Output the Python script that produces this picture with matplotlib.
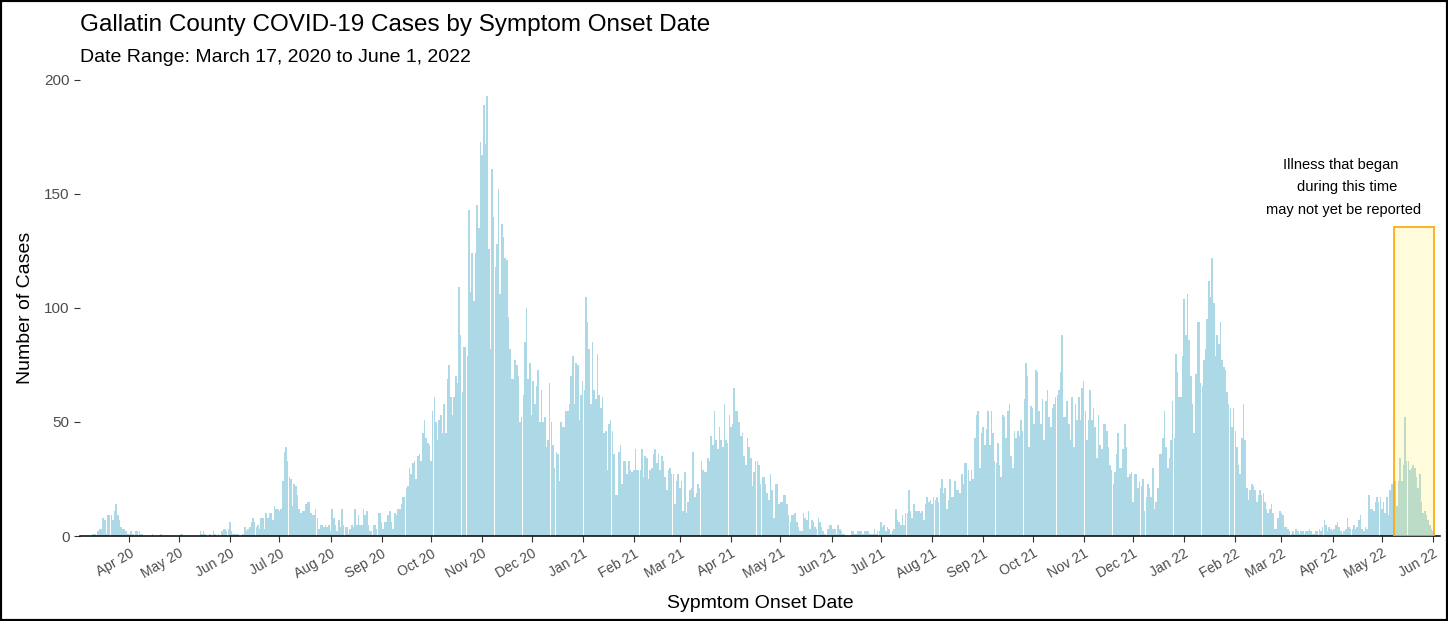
import matplotlib
matplotlib.use('Agg')
import matplotlib.pyplot as plt
import matplotlib.dates as mdates
from matplotlib.patches import Rectangle
import pandas as pd

plt.rcParams['font.family'] = ['Liberation Sans', 'DejaVu Sans']

# Daily case counts by symptom onset (first bar = 2020-03-10)
early_2020 = [1, 1, 0, 2, 3, 3, 8, 7, 1, 9, 9, 9, 7, 11, 14, 9, 7, 4, 3, 3,
              2, 1, 1, 2, 1, 0, 2, 2, 2, 1, 1, 0, 0, 0, 0, 0, 1, 0, 0, 0,
              0, 1, 0, 0, 0, 0, 0, 0, 0, 0, 0, 0, 0, 1, 1, 0, 0, 0, 0, 0,
              0, 0, 0, 0, 0, 2, 1, 2, 1]
summer_2020 = [0, 0, 1, 0, 2, 1, 0, 1, 0, 2, 3, 3, 2, 3, 6, 2, 1, 1, 1, 1,
               0, 0, 1, 4, 2, 3, 4, 6, 8, 6, 4, 5, 3, 8, 8, 3, 10, 8, 10, 10,
               7, 13, 12, 12, 11, 12, 24, 37, 39, 33, 26, 25, 13, 23, 22, 18, 12, 10, 11, 11,
               14, 15, 15, 10, 9, 9, 12, 8, 3, 5, 5, 4]
fall_2020 = [5, 4, 5, 2, 12, 8, 5, 2, 7, 4, 12, 5, 4, 4, 1, 3, 5, 4, 12, 5,
             9, 5, 5, 12, 9, 11, 5, 2, 2, 5, 5, 3, 10, 10, 6, 3, 6, 6, 9, 11,
             6, 3, 10, 9, 12, 12, 14, 17, 17, 21, 22, 30, 27, 32, 33, 25, 35, 36, 33, 45,
             51, 43, 41, 40, 33, 55, 61, 50, 42, 51, 53, 45, 58]
peak_2020 = [45, 69, 75, 61, 53, 61, 70, 67, 109, 88, 63, 83, 83, 79, 143, 107, 124, 103, 124, 145,
             135, 173, 167, 189, 172, 193, 126, 82, 161, 140, 118, 128, 152, 106, 137, 131, 122, 121, 96, 82,
             69, 69, 77, 75, 70, 50, 52, 62, 85, 100, 69, 76, 53, 68, 58, 66, 73, 50, 64, 50,
             52, 39, 42, 67, 50, 40, 30, 37, 36, 24, 50, 48, 48, 55]
winter_2021 = [55, 58, 70, 79, 58, 76, 75, 51, 62, 68, 64, 105, 94, 82, 58, 85, 64, 60, 80, 62,
               56, 61, 45, 46, 29, 49, 51, 46, 36, 18, 18, 37, 40, 23, 33, 33, 27, 33, 29, 28,
               29, 38, 29, 29, 29, 38, 26, 35, 34, 25, 29, 30, 36, 38, 32, 36, 29, 35, 33, 26,
               20, 29, 30, 27, 27, 14, 24, 27, 21, 24, 11]
spring_2021 = [28, 10, 15, 20, 21, 37, 17, 19, 23, 21, 33, 29, 28, 28, 34, 33, 44, 40, 55, 42,
               38, 48, 42, 39, 58, 42, 41, 53, 48, 49, 65, 55, 55, 50, 44, 45, 35, 31, 43, 39,
               34, 22, 28, 33, 33, 31, 23, 26, 26, 23, 19, 16, 27, 20, 8, 23, 23, 14, 15, 15,
               18, 18, 14, 9, 6, 9, 9, 10, 6, 4, 2, 2, 10]
summer_2021 = [8, 7, 11, 3, 7, 6, 4, 3, 8, 6, 4, 2, 1, 0, 3, 5, 5, 3, 3, 1,
               5, 3, 2, 1, 1, 0, 0, 0, 2, 2, 1, 1, 2, 2, 2, 1, 2, 2, 2, 1,
               1, 1, 3, 1, 2, 2, 6, 4, 5, 2, 4, 3, 1, 2, 3, 12, 7, 6, 5, 9,
               5, 10, 10, 20, 11, 8, 14, 11, 11, 11, 10, 11, 7, 14, 17]
delta_2021 = [15, 16, 14, 17, 16, 17, 15, 21, 25, 19, 21, 12, 16, 25, 17, 17, 24, 20, 20, 19,
              27, 23, 32, 32, 29, 24, 29, 25, 43, 53, 55, 30, 45, 48, 40, 47, 55, 40, 55, 45,
              33, 32, 41, 31, 26, 53, 52, 43, 55, 58, 35, 30, 46, 43, 46, 44, 51, 46, 60, 76,
              70, 39, 57, 56, 49, 73, 72, 55, 49, 60, 42, 59, 64, 52]
late_2021 = [48, 56, 58, 61, 62, 64, 72, 88, 52, 52, 59, 49, 42, 61, 39, 58, 51, 61, 51, 65,
             68, 55, 42, 51, 64, 51, 56, 48, 34, 53, 40, 38, 49, 49, 46, 39, 31, 29, 23, 28,
             36, 45, 30, 30, 38, 49, 39, 26, 27, 28, 15, 27, 27, 21, 24, 22, 25, 11, 17, 23,
             21, 17, 30, 12, 15, 21, 36, 36, 43, 55, 39, 30, 34]
omicron_2022 = [42, 59, 43, 80, 72, 61, 61, 79, 104, 88, 106, 86, 70, 58, 45, 71, 94, 94, 67, 66,
                77, 82, 95, 112, 105, 122, 102, 79, 88, 84, 94, 77, 74, 73, 63, 58, 56, 48, 56, 46,
                39, 31, 27, 43, 58, 42, 21, 16, 20, 23, 22, 20, 15, 18, 20, 18, 19, 15, 12, 10,
                12, 14, 10, 3, 3, 8, 11, 10, 9, 4, 4, 3, 2]
spring_2022 = [1, 2, 1, 3, 2, 1, 2, 2, 1, 2, 2, 3, 2, 1, 1, 2, 2, 3, 2, 4,
               7, 5, 2, 4, 3, 2, 3, 5, 6, 4, 2, 1, 2, 3, 8, 4, 3, 3, 5, 3,
               4, 7, 9, 3, 2, 4, 3, 18, 12, 12, 11, 15, 17, 15, 17, 12, 15, 10, 17, 9,
               20, 23, 24, 24, 13, 24, 34, 24, 31, 52, 33, 33, 29, 30, 31, 30, 26, 21, 27, 15,
               10, 11, 9, 7, 5, 3, 2]

cases = (early_2020 + summer_2020 + fall_2020 + peak_2020 + winter_2021 + spring_2021
         + summer_2021 + delta_2021 + late_2021 + omicron_2022 + spring_2022)
dates = pd.date_range('2020-03-10', periods=len(cases), freq='D')

# window where reporting is still incomplete
lag_start = pd.Timestamp('2022-05-08 12:00')
lag_end = pd.Timestamp('2022-06-01 12:00')
lag_height = 135.5

W, H = 1448, 621
fig = plt.figure(figsize=(W / 100, H / 100), dpi=100)
ax = fig.add_axes([80 / W, 1 - 536 / H, (1440 - 80) / W, (536 - 80) / H])

ax.bar(dates, cases, width=0.96, color='lightblue', linewidth=0, zorder=2)

x0 = mdates.date2num(lag_start)
x1 = mdates.date2num(lag_end)
ax.add_patch(Rectangle((x0, 0), x1 - x0, lag_height, facecolor=(1, 0.93, 0.3, 0.2),
                       edgecolor='orange', linewidth=1.2, zorder=3))

# note above the box
ax.text(mdates.date2num(pd.Timestamp('2022-04-06 06:00')), 162.7, 'Illness that began',
        ha='center', va='center', fontsize=10.5)
ax.text(mdates.date2num(pd.Timestamp('2022-04-10 00:00')), 153.1, 'during this time',
        ha='center', va='center', fontsize=10.5)
ax.text(mdates.date2num(pd.Timestamp('2022-04-07 12:00')), 143.0, 'may not yet be reported',
        ha='center', va='center', fontsize=10.5)

ax.set_ylim(0, 200)
ax.set_xlim(pd.Timestamp('2020-03-02'), pd.Timestamp('2022-06-05 05:00'))
ax.set_yticks([0, 50, 100, 150, 200])
ax.xaxis.set_major_locator(mdates.MonthLocator())
ax.xaxis.set_major_formatter(mdates.DateFormatter('%b %y'))

for s in ['left', 'top', 'right']:
    ax.spines[s].set_visible(False)
ax.spines['bottom'].set_color('black')
ax.spines['bottom'].set_linewidth(1.1)
ax.tick_params(axis='y', colors='#333333', labelcolor='#4d4d4d', labelsize=11, length=4)
ax.tick_params(axis='x', colors='#333333', labelcolor='#4d4d4d', labelsize=10, length=4)
for lbl in ax.get_xticklabels():
    lbl.set_rotation(30)
    lbl.set_ha('right')
    lbl.set_rotation_mode('anchor')

ax.set_ylabel('Number of Cases', fontsize=14, labelpad=7)
ax.set_xlabel('Sypmtom Onset Date', fontsize=14, labelpad=10)

fig.text(80 / W, 1 - 25 / H, 'Gallatin County COVID-19 Cases by Symptom Onset Date',
         fontsize=17.5, va='center', ha='left')
fig.text(80 / W, 1 - 58 / H, 'Date Range: March 17, 2020 to June 1, 2022',
         fontsize=14, va='center', ha='left')

# frame around the whole picture
fig.patches.append(Rectangle((0, 0), 1, 1, transform=fig.transFigure, fill=False,
                             edgecolor='black', linewidth=3))

fig.savefig('out.png', dpi=100)
